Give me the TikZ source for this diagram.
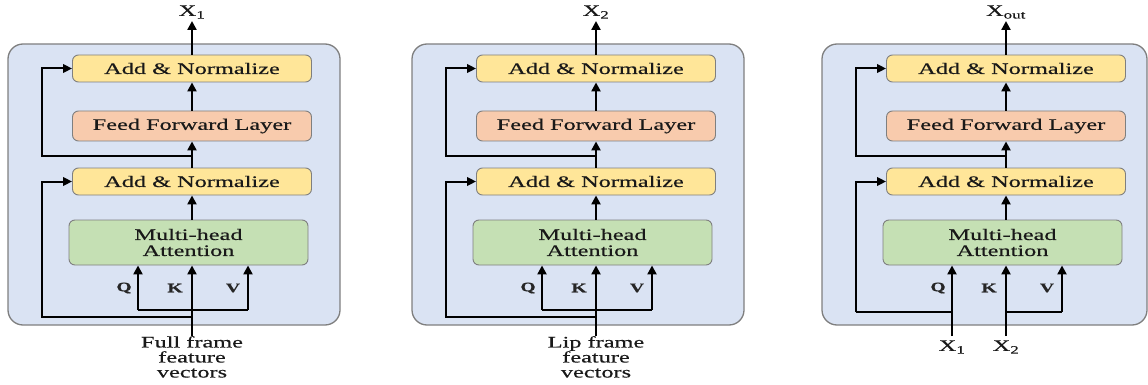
\documentclass[tikz,border=0pt]{standalone}
\usepackage{fontspec}
\setmainfont{Liberation Serif}[FakeStretch=1.52, FakeBold=0.4]
\usetikzlibrary{arrows.meta}
\definecolor{panelbg}{HTML}{DAE3F3}
\definecolor{addc}{HTML}{FFE699}
\definecolor{ffc}{HTML}{F8CBAD}
\definecolor{mhac}{HTML}{C5E0B4}
\definecolor{bord}{HTML}{7F7F7F}
\tikzset{
  panel/.style={draw=bord, fill=panelbg, rounded corners=15pt, line width=1.3pt},
  blk/.style={draw=bord, line width=0.9pt, rounded corners=6pt, minimum width=239pt,
    minimum height=27pt, inner sep=0pt, font=\fontsize{16}{16}\selectfont, align=center, text=black!90},
  addbox/.style={blk, fill=addc},
  ffbox/.style={blk, fill=ffc, minimum height=30pt},
  mhabox/.style={blk, fill=mhac, minimum height=45pt},
  arr/.style={line width=2.6pt, -{Triangle[length=9pt,width=9pt]}},
  res/.style={line width=2pt, -{Triangle[length=9pt,width=8.5pt]}},
  ln/.style={line width=2.6pt},
  rln/.style={line width=2pt},
  qkv/.style={font=\bfseries\fontsize{13}{13}\selectfont, text=black!85},
  lbl/.style={font=\fontsize{16}{15}\selectfont, align=center, inner sep=0pt, text=black!90},
}
\newcommand{\tfpanel}[4]{%
  \begin{scope}[shift={(#2,0)}]
    \draw[panel] (-184,44) rectangle (#3,325);
    \node[addbox] (#1a2) at (0,68.5) {Add \& Normalize};
    \node[ffbox]  (#1ff) at (0,126) {Feed Forward Layer};
    \node[addbox] (#1a1) at (0,181.5) {Add \& Normalize};
    \node[mhabox] (#1mha) at (-3.5,242.5) {Multi-head\\Attention};
    \coordinate (#1top) at (0,21);
    \node[lbl] (#1out) at (0,12) {#4};
    \draw[arr] (#1mha.north -| #1a1.south) -- (#1a1.south);
    \draw[arr] (#1a1.north) -- (#1ff.south);
    \draw[arr] (#1ff.north) -- (#1a2.south);
    \draw[arr] (#1a2.north) -- (#1top);
    \coordinate (#1rb) at (0,156);
    \coordinate (#1rl) at (-150,156);
    \draw[res] (#1rb) -- (#1rl) |- (#1a2.west);
    \coordinate (#1q) at (-54,0);
    \coordinate (#1k) at (0,0);
    \coordinate (#1v) at (56,0);
    \node[qkv] (#1ql) at (-68,288) {Q};
    \node[qkv] (#1kl) at (-17,288) {K};
    \node[qkv] (#1vl) at (41,288) {V};
  \end{scope}}
\begin{document}
\begin{tikzpicture}[x=1pt,y=-1pt]
\useasboundingbox (0,0) rectangle (1148,385);
\tfpanel{p}{192}{148}{X\textsubscript{1}}
\tfpanel{s}{596}{148}{X\textsubscript{2}}
\tfpanel{t}{1006}{141}{X\textsubscript{out}}
% panels 1 and 2 inputs
\foreach \P/\M/\T in {p/192/{Full frame\\feature\\vectors}, s/596/{Lip frame\\feature\\vectors}}{
  \coordinate (\P in) at (\M,336);
  \node[lbl, anchor=north] (\P txt) at (\M,336) {\T};
  \coordinate (\P j1) at (\M,310);
  \coordinate (\P j2) at (\M,317);
  \draw[arr] (\P in) -- (\P mha.south -| \P in);
  \draw[ln] (\P j1 -| \P q) -- (\P j1 -| \P v);
  \draw[arr] (\P j1 -| \P q) -- (\P mha.south -| \P q);
  \draw[arr] (\P j1 -| \P v) -- (\P mha.south -| \P v);
  \draw[res] (\P j2) -- (\P j2 -| \P rl) |- (\P a1.west);
}
% panel 3 inputs
\coordinate (tin1) at (952,336);
\coordinate (tin2) at (1006,336);
\node[lbl] (tx1) at (952,347) {X\textsubscript{1}};
\node[lbl] (tx2) at (1006,347) {X\textsubscript{2}};
\coordinate (tj) at (0,312);
\draw[arr] (tin1) -- (tmha.south -| tin1);
\draw[arr] (tin2) -- (tmha.south -| tin2);
\draw[rln] (tj -| tin1) -- (tj -| trl);
\draw[res] (tj -| trl) |- (ta1.west);
\draw[ln] (tj -| tin2) -- (tj -| tv);
\draw[arr] (tj -| tv) -- (tmha.south -| tv);
\end{tikzpicture}
\end{document}
